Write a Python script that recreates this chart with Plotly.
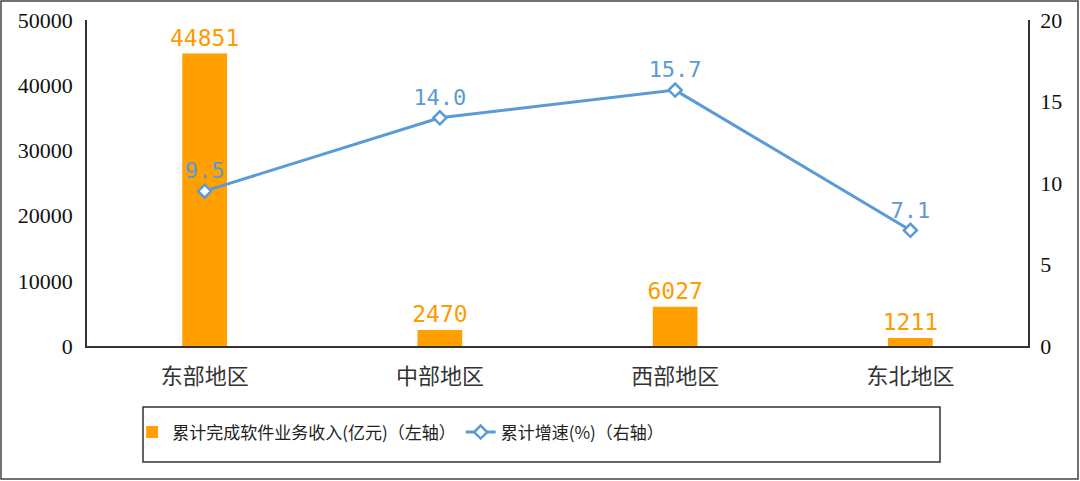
import plotly.graph_objects as go

regions = ["东部地区", "中部地区", "西部地区", "东北地区"]
revenue = [44851, 2470, 6027, 1211]
growth = [9.5, 14.0, 15.7, 7.1]
left_ticks = [0, 10000, 20000, 30000, 40000, 50000]
right_ticks = [0, 5, 10, 15, 20]
bar_name = "累计完成软件业务收入(亿元)（左轴）"
line_name = "累计增速(%)（右轴）"

ORANGE = "#FF9F00"
BLUE = "#5B9BD5"
cjk = "Noto Sans CJK SC"

fig = go.Figure()
fig.add_trace(go.Bar(
    x=regions, y=revenue, name=bar_name,
    marker=dict(color=ORANGE, line=dict(width=0)),
    width=0.19,
    text=[str(v) for v in revenue], textposition="outside",
    constraintext="none",
    textfont=dict(family="DejaVu Sans Mono", size=23, color="#FF9A00"),
    cliponaxis=False,
))
fig.add_trace(go.Scatter(
    x=regions, y=growth, name=line_name, yaxis="y2",
    mode="lines+markers+text",
    line=dict(color=BLUE, width=3),
    marker=dict(symbol="diamond", size=10, color="white", line=dict(color=BLUE, width=2.5)),
    text=[f"{v:.1f}" for v in growth], textposition="top center",
    textfont=dict(family="DejaVu Sans Mono", size=22, color=BLUE),
    cliponaxis=False,
))

fig.update_layout(
    width=1080, height=481,
    margin=dict(l=87, r=52, t=20, b=135, autoexpand=False),
    paper_bgcolor="white", plot_bgcolor="white",
    showlegend=True,
    xaxis=dict(
        showline=True, linecolor="#333", linewidth=1.5,
        tickfont=dict(family=cjk, size=22, color="#333"),
        ticks="", showgrid=False, automargin=False, ticklabelstandoff=10,
    ),
    yaxis=dict(
        range=[0, 50000], tickvals=left_ticks, ticktext=[str(t) for t in left_ticks],
        showline=True, linecolor="#333", linewidth=1.5, showgrid=False, zeroline=False,
        tickfont=dict(family="Liberation Serif", size=22, color="#111"),
        ticks="", ticklabelstandoff=8, automargin=False,
    ),
    yaxis2=dict(
        range=[0, 20], tickvals=right_ticks, overlaying="y", side="right",
        showline=True, linecolor="#333", linewidth=1.5, showgrid=False, zeroline=False,
        tickfont=dict(family="Liberation Serif", size=22, color="#111"),
        ticks="", ticklabelstandoff=6, automargin=False,
    ),
    legend=dict(
        orientation="h", x=0.048, y=-0.21, xanchor="left", yanchor="top",
        font=dict(family=cjk, size=17, color="#222"),
        bgcolor="rgba(0,0,0,0)", borderwidth=0,
        itemwidth=30,
    ),
    shapes=[
        dict(type="rect", xref="paper", yref="paper",
             x0=(143 - 87) / 941, x1=(940 - 87) / 941,
             y0=(346 - 462) / 326, y1=(346 - 407) / 326,
             line=dict(color="#333", width=1.5), fillcolor="rgba(0,0,0,0)"),
        dict(type="rect", xref="paper", yref="paper",
             x0=(1 - 87) / 941, x1=(1078 - 87) / 941,
             y0=(346 - 479) / 326, y1=(346 - 1) / 326,
             line=dict(color="#444", width=1.5), fillcolor="rgba(0,0,0,0)"),
    ],
)

fig.write_html("out.html", config={"displayModeBar": False},
               post_script="document.body.style.margin='0';document.body.style.overflow='hidden';")
